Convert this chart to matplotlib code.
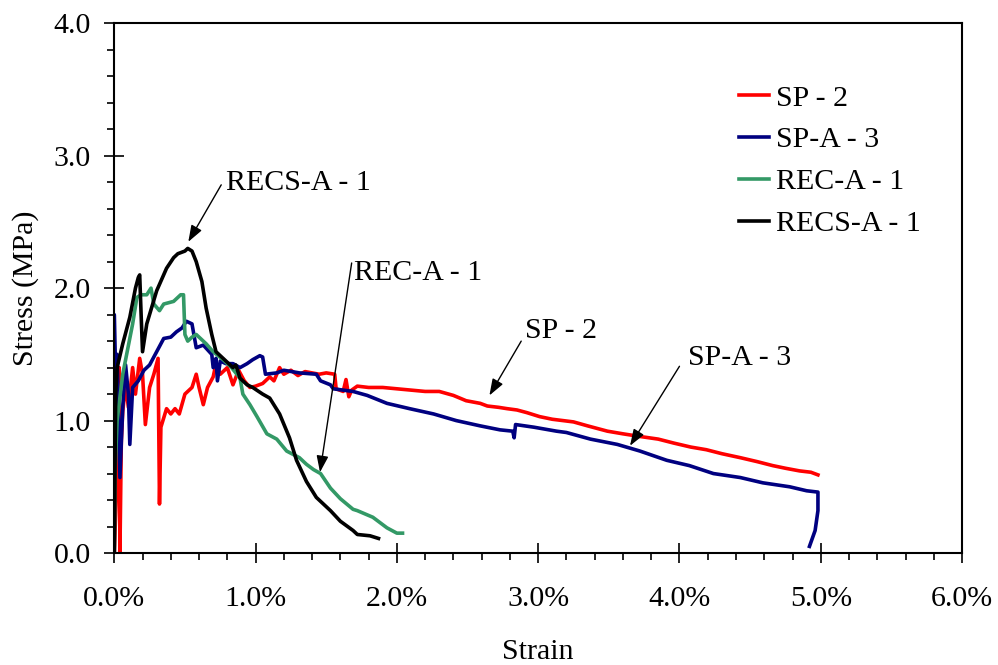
import matplotlib
matplotlib.use("Agg")
import matplotlib.pyplot as plt
from matplotlib.ticker import MultipleLocator, FuncFormatter

plt.rcParams['font.family'] = ['Liberation Serif', 'DejaVu Serif']

# ---- data (strain in %, stress in MPa) ----
sp2_x = [0.0, 0.02, 0.035, 0.04, 0.05, 0.06, 0.08, 0.10, 0.13, 0.15, 0.18, 0.20, 0.22, 0.25, 0.28, 0.31,
         0.32, 0.33, 0.37, 0.40, 0.43, 0.46, 0.50, 0.55, 0.58, 0.60, 0.63, 0.66, 0.70, 0.72, 0.75, 0.80,
         0.84, 0.88, 0.92, 0.96, 1.00, 1.05, 1.10, 1.13, 1.17, 1.20, 1.25, 1.30, 1.35, 1.40, 1.45, 1.50,
         1.56, 1.57, 1.62, 1.64, 1.66, 1.68, 1.72, 1.80, 1.90, 2.00, 2.10, 2.20, 2.30, 2.40, 2.49, 2.59,
         2.64, 2.72, 2.78, 2.85, 2.92, 3.01, 3.10, 3.25, 3.35, 3.49, 3.60, 3.72, 3.85, 3.96, 4.08, 4.19,
         4.30, 4.43, 4.55, 4.66, 4.75, 4.85, 4.93, 4.98]
sp2_y = [0.0, 0.6, 1.40, 0.0, 0.85, 1.07, 1.27, 1.10, 1.40, 1.20, 1.47, 1.35, 0.97, 1.25, 1.35, 1.47,
         0.37, 0.95, 1.09, 1.05, 1.09, 1.05, 1.20, 1.25, 1.35, 1.25, 1.12, 1.25, 1.33, 1.43, 1.35, 1.40,
         1.27, 1.38, 1.30, 1.25, 1.26, 1.28, 1.33, 1.30, 1.40, 1.35, 1.38, 1.34, 1.37, 1.36, 1.35, 1.36,
         1.35, 1.24, 1.22, 1.31, 1.18, 1.23, 1.26, 1.25, 1.25, 1.24, 1.23, 1.22, 1.22, 1.19, 1.15, 1.13,
         1.11, 1.10, 1.09, 1.08, 1.06, 1.03, 1.01, 0.99, 0.96, 0.92, 0.90, 0.88, 0.86, 0.83, 0.80, 0.78,
         0.75, 0.72, 0.69, 0.66, 0.64, 0.62, 0.61, 0.59]

spa3_x = [0.0, 0.0, 0.01, 0.02, 0.04, 0.06, 0.08, 0.10, 0.11, 0.13, 0.17, 0.21, 0.25, 0.30, 0.35, 0.40,
          0.44, 0.48, 0.51, 0.55, 0.56, 0.58, 0.63, 0.69, 0.70, 0.72, 0.73, 0.75, 0.79, 0.84, 0.89, 0.94,
          0.98, 1.03, 1.05, 1.07, 1.15, 1.20, 1.31, 1.43, 1.46, 1.53, 1.55, 1.69, 1.79, 1.93, 2.09, 2.26,
          2.42, 2.59, 2.73, 2.82, 2.83, 2.84, 2.97, 3.13, 3.20, 3.37, 3.56, 3.72, 3.91, 4.07, 4.24, 4.43,
          4.59, 4.78, 4.90, 4.98, 4.98, 4.96, 4.92]
spa3_y = [0.0, 1.80, 1.30, 1.50, 0.57, 1.10, 1.42, 1.20, 0.82, 1.25, 1.30, 1.38, 1.42, 1.52, 1.62, 1.63,
          1.67, 1.70, 1.75, 1.73, 1.67, 1.55, 1.57, 1.50, 1.40, 1.47, 1.30, 1.45, 1.43, 1.43, 1.40, 1.43,
          1.46, 1.49, 1.48, 1.35, 1.36, 1.38, 1.36, 1.35, 1.30, 1.27, 1.24, 1.22, 1.19, 1.13, 1.09, 1.05,
          1.00, 0.96, 0.93, 0.92, 0.87, 0.97, 0.95, 0.92, 0.91, 0.86, 0.82, 0.77, 0.70, 0.66, 0.60, 0.57,
          0.53, 0.50, 0.47, 0.46, 0.32, 0.17, 0.05]

reca1_x = [0.0, 0.005, 0.02, 0.06, 0.13, 0.16, 0.19, 0.23, 0.26, 0.28, 0.32, 0.35, 0.42, 0.47, 0.49,
           0.50, 0.52, 0.55, 0.58, 0.61, 0.65, 0.70, 0.77, 0.83, 0.89, 0.91, 0.96, 1.01, 1.08, 1.15,
           1.22, 1.31, 1.36, 1.41, 1.46, 1.53, 1.60, 1.69, 1.72, 1.83, 1.93, 2.00, 2.04]
reca1_y = [0.0, 0.60, 1.00, 1.35, 1.73, 1.93, 1.95, 1.95, 2.00, 1.88, 1.83, 1.88, 1.90, 1.95, 1.95,
           1.65, 1.60, 1.63, 1.65, 1.62, 1.58, 1.52, 1.46, 1.40, 1.32, 1.20, 1.12, 1.03, 0.90, 0.86,
           0.77, 0.72, 0.67, 0.63, 0.60, 0.49, 0.41, 0.33, 0.32, 0.27, 0.19, 0.15, 0.15]

recsa1_x = [0.0, 0.01, 0.02, 0.06, 0.11, 0.15, 0.17, 0.18, 0.19, 0.20, 0.23, 0.30, 0.37, 0.42, 0.45,
            0.50, 0.52, 0.55, 0.58, 0.62, 0.65, 0.69, 0.72, 0.80, 0.84, 0.86, 0.89, 0.94, 0.98, 1.05,
            1.10, 1.17, 1.24, 1.29, 1.36, 1.43, 1.53, 1.60, 1.69, 1.72, 1.81, 1.87]
recsa1_y = [0.0, 1.20, 1.40, 1.58, 1.78, 2.00, 2.08, 2.10, 1.80, 1.52, 1.73, 1.98, 2.15, 2.23, 2.26,
            2.28, 2.30, 2.28, 2.20, 2.05, 1.85, 1.65, 1.52, 1.44, 1.40, 1.42, 1.32, 1.27, 1.25, 1.20,
            1.17, 1.05, 0.87, 0.70, 0.54, 0.42, 0.32, 0.24, 0.17, 0.14, 0.13, 0.11]

series_labels = ["SP - 2", "SP-A - 3", "REC-A - 1", "RECS-A - 1"]
series_colors = ["#FF0000", "#000080", "#339966", "#000000"]

# annotations: label, text anchor (x, y), arrow tail, arrow tip
ann_labels = ["RECS-A - 1", "REC-A - 1", "SP - 2", "SP-A - 3"]
ann_text_xy = [(0.79, 2.74), (1.70, 2.06), (2.91, 1.62), (4.06, 1.42)]
ann_tail_xy = [(0.757, 2.78), (1.68, 2.19), (2.88, 1.60), (4.00, 1.41)]
ann_tip_xy = [(0.524, 2.35), (1.456, 0.61), (2.655, 1.19), (3.65, 0.81)]

fig = plt.figure(figsize=(9.98, 6.65), dpi=100)
ax = fig.add_axes([0.1145, 0.1684, 0.8495, 0.7966])

xs = [sp2_x, spa3_x, reca1_x, recsa1_x]
ys = [sp2_y, spa3_y, reca1_y, recsa1_y]
for x, y, lab, col in zip(xs, ys, series_labels, series_colors):
    ax.plot(x, y, color=col, lw=2.6, label=lab, solid_joinstyle='round')

for lab, t, a, b in zip(ann_labels, ann_text_xy, ann_tail_xy, ann_tip_xy):
    ax.text(t[0], t[1], lab, fontsize=21.5, ha='left', va='baseline')
    ax.annotate('', xy=b, xytext=a,
                arrowprops=dict(arrowstyle='-|>,head_length=0.5,head_width=0.18',
                                color='black', lw=1.0, mutation_scale=20,
                                shrinkA=0, shrinkB=0))

ax.set_xlim(0, 6)
ax.set_ylim(0, 4)
ax.xaxis.set_major_locator(MultipleLocator(1))
ax.xaxis.set_minor_locator(MultipleLocator(0.2))
ax.yaxis.set_major_locator(MultipleLocator(1))
ax.yaxis.set_minor_locator(MultipleLocator(0.2))
ax.xaxis.set_major_formatter(FuncFormatter(lambda v, p: f"{v:.1f}%"))
ax.yaxis.set_major_formatter(FuncFormatter(lambda v, p: f"{v:.1f}"))
ax.tick_params(which='major', direction='inout', length=14, width=1.2, labelsize=21.5, pad=10)
ax.tick_params(which='minor', direction='out', length=5, width=1.2)
ax.tick_params(axis='x', which='major', pad=17)
for s in ax.spines.values():
    s.set_linewidth(1.5)

ax.set_xlabel("Strain", fontsize=21.5, labelpad=19)
ax.set_ylabel("Stress (MPa)", fontsize=21.5, labelpad=10)

leg = ax.legend(loc='upper left', bbox_to_anchor=(0.737, 0.884), frameon=False,
                fontsize=21.5, handlelength=1.0, handletextpad=0.25, labelspacing=0.5,
                borderpad=0, borderaxespad=0)
for h in leg.get_lines():
    h.set_linewidth(2.6)

fig.savefig("out.png", dpi=100)
